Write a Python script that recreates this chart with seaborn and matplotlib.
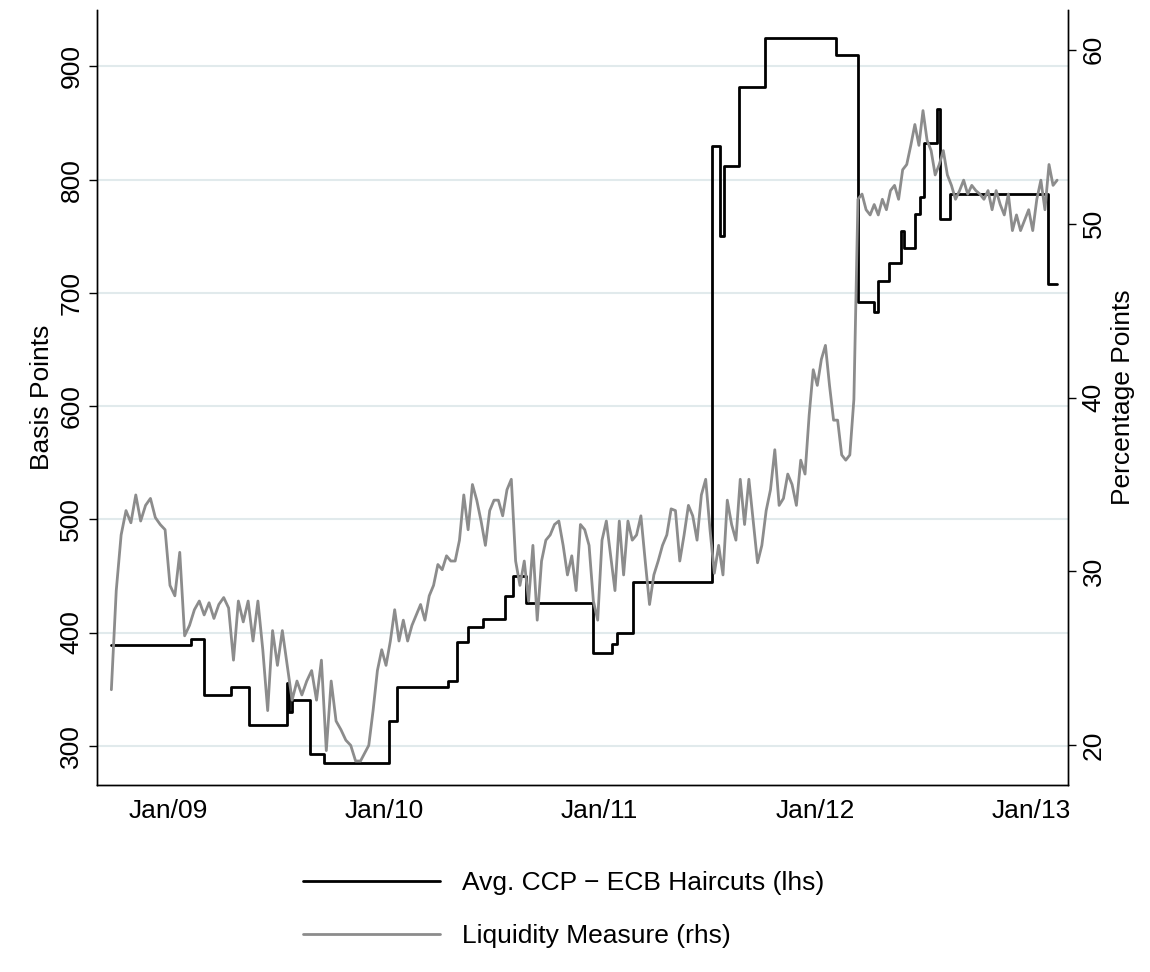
"""
CCP vs ECB haircuts and liquidity measure, Stata-style dual axis chart.
"""
import matplotlib
matplotlib.use("Agg")
import matplotlib.pyplot as plt
import numpy as np
import pandas as pd
import seaborn as sns

# Avg. CCP - ECB haircut step changes (basis points, lhs)
haircut_dates = [
    "2008-09-26", "2009-02-08", "2009-03-02", "2009-04-17", "2009-04-26",
    "2009-05-17", "2009-07-20", "2009-07-24", "2009-07-29", "2009-08-29",
    "2009-09-21", "2010-01-10", "2010-01-23", "2010-04-20", "2010-05-04",
    "2010-05-23", "2010-06-17", "2010-07-25", "2010-08-08", "2010-08-29",
    "2010-12-20", "2011-01-22", "2011-01-31", "2011-02-27", "2011-07-10",
    "2011-07-24", "2011-07-30", "2011-08-25", "2011-10-08", "2012-02-06",
    "2012-03-13", "2012-04-09", "2012-04-16", "2012-05-06", "2012-05-25",
    "2012-05-31", "2012-06-19", "2012-06-26", "2012-07-03", "2012-07-26",
    "2012-07-31", "2012-08-16", "2013-01-30", "2013-02-14",
]
haircut_vals = [
    389, 394, 345, 352, 352, 318, 355, 330, 340, 293,
    285, 322, 352, 357, 392, 405, 412, 432, 450, 426,
    382, 390, 400, 445, 830, 750, 812, 882, 925, 910,
    692, 683, 710, 726, 755, 740, 770, 785, 832, 862,
    765, 787, 708, 708,
]

# Liquidity measure (percentage points, rhs), weekly, in three stretches
liq1_start, liq1_end = "2008-09-26", "2009-11-22"
liq1_vals = [
    23.2, 28.9, 32.1, 33.5, 32.8, 34.4, 32.9, 33.8, 34.2, 33.1, 32.7, 32.4, 29.2,
    28.6, 31.1, 26.3, 26.9, 27.8, 28.3, 27.5, 28.2, 27.3, 28.1, 28.5, 27.9, 24.9,
    28.3, 27.1, 28.3, 26.0, 28.3, 25.5, 22.0, 26.6, 24.6, 26.6, 24.6, 22.6, 23.7,
    22.9, 23.7, 24.3, 22.6, 24.9, 19.7, 23.7, 21.4, 20.9, 20.3, 20.0, 19.1, 19.1,
]
liq2_start, liq2_end = "2009-12-06", "2011-12-15"
liq2_vals = [
    20.0, 22.0, 24.3, 25.5, 24.6, 26.0, 27.8, 26.0, 27.2, 26.0, 26.9, 27.5, 28.1,
    27.2, 28.6, 29.2, 30.4, 30.1, 30.9, 30.6, 30.6, 31.8, 34.4, 32.4, 35.0, 34.1,
    32.9, 31.5, 33.5, 34.1, 34.1, 33.2, 34.7, 35.3, 30.6, 29.2, 30.6, 28.3, 31.5,
    27.2, 30.6, 31.8, 32.1, 32.7, 32.9, 31.5, 29.8, 30.9, 28.9, 32.7, 32.4, 31.5,
    28.3, 27.2, 31.8, 32.9, 30.9, 28.9, 32.9, 29.8, 32.9, 31.8, 32.1, 33.2, 30.6,
    28.1, 29.8, 30.6, 31.5, 32.1, 33.6, 33.5, 30.6, 32.1, 33.8, 33.2, 31.8, 34.4,
    35.3, 32.4, 29.9, 31.5, 29.8, 34.1, 32.7, 31.8, 35.3, 32.7, 35.3, 32.9, 30.5,
    31.5, 33.5, 34.7, 37.0, 33.8, 34.2, 35.6, 35.0, 33.8, 36.4, 35.6,
]
liq3_start, liq3_end = "2011-12-22", "2013-02-14"
liq3_vals = [
    39.0, 41.6, 40.7, 42.2, 43.0, 40.7, 38.7, 38.7, 36.7, 36.4, 36.7, 39.9, 51.4,
    51.7, 50.8, 50.5, 51.1, 50.5, 51.4, 50.8, 51.9, 52.2, 51.4, 53.1, 53.4, 54.5,
    55.7, 54.5, 56.5, 54.8, 54.2, 52.8, 53.4, 54.2, 52.8, 52.2, 51.4, 51.9, 52.5,
    51.7, 52.2, 51.9, 51.7, 51.4, 51.9, 50.8, 51.9, 51.1, 50.5, 51.7, 49.6, 50.5,
    49.6, 50.2, 50.8, 49.6, 51.4, 52.5, 50.8, 53.4, 52.2, 52.5,
]

tick_dates = ["2009-01-01", "2010-01-01", "2011-01-01", "2012-01-01", "2013-01-01"]
tick_labels = ["Jan/09", "Jan/10", "Jan/11", "Jan/12", "Jan/13"]
lhs_ticks = [300, 400, 500, 600, 700, 800, 900]
rhs_ticks = [20, 30, 40, 50, 60]

sns.set_theme(style="white")
plt.rcParams["font.family"] = ["Liberation Sans", "DejaVu Sans"]
plt.rcParams["text.color"] = "black"
plt.rcParams["axes.labelcolor"] = "black"
plt.rcParams["xtick.color"] = "black"
plt.rcParams["ytick.color"] = "black"

haircuts = pd.DataFrame({"date": pd.to_datetime(haircut_dates), "value": haircut_vals})
stretches = [(liq1_start, liq1_end, liq1_vals), (liq2_start, liq2_end, liq2_vals),
             (liq3_start, liq3_end, liq3_vals)]
liq = pd.concat([
    pd.DataFrame({"date": pd.date_range(s, e, periods=len(v)), "value": v})
    for s, e, v in stretches
], ignore_index=True)

fig = plt.figure(figsize=(11.5, 9.72), dpi=100)
ax = fig.add_axes([0.084, 0.192, 0.845, 0.798])
ax2 = ax.twinx()

ax.grid(axis="y", color="#e1eaec", linewidth=1.5)
ax.set_axisbelow(True)

ax.step(haircuts["date"], haircuts["value"], where="post", color="black", lw=2,
        label="Avg. CCP \u2212 ECB Haircuts (lhs)")
sns.lineplot(data=liq, x="date", y="value", ax=ax2, color="#8c8c8c", lw=2,
             label="Liquidity Measure (rhs)", legend=False)

ax.set_ylim(265, 950)
ax2.set_ylim(17.7, 62.3)
ax.set_xlim(pd.Timestamp("2008-09-01"), pd.Timestamp("2013-03-05"))
ax.set_yticks(lhs_ticks)
ax2.set_yticks(rhs_ticks)
ax.set_xticks(pd.to_datetime(tick_dates))
ax.set_xticklabels(tick_labels)

for a in (ax, ax2):
    a.spines["top"].set_visible(False)
    for s in ("left", "right", "bottom"):
        a.spines[s].set_color("black")
        a.spines[s].set_linewidth(1)
    a.tick_params(axis="both", labelsize=19, length=6, width=1, color="black",
                  direction="out")
ax.tick_params(axis="y", left=True)
ax2.tick_params(axis="y", right=True)
for lbl in ax.get_yticklabels() + ax2.get_yticklabels():
    lbl.set_rotation(90)
    lbl.set_va("center")

ax.set_ylabel("Basis Points", fontsize=19)
ax2.set_ylabel("Percentage Points", fontsize=19)
ax.set_xlabel("")
ax2.set_xlabel("")

h1, l1 = ax.get_legend_handles_labels()
h2, l2 = ax2.get_legend_handles_labels()
fig.legend(h1 + h2, l1 + l2, loc="lower center", bbox_to_anchor=(0.49, 0.0),
           ncol=1, frameon=False, fontsize=19, handlelength=5.2,
           labelspacing=1.1)

fig.savefig("out.png", dpi=100, facecolor="white")
plt.close(fig)
